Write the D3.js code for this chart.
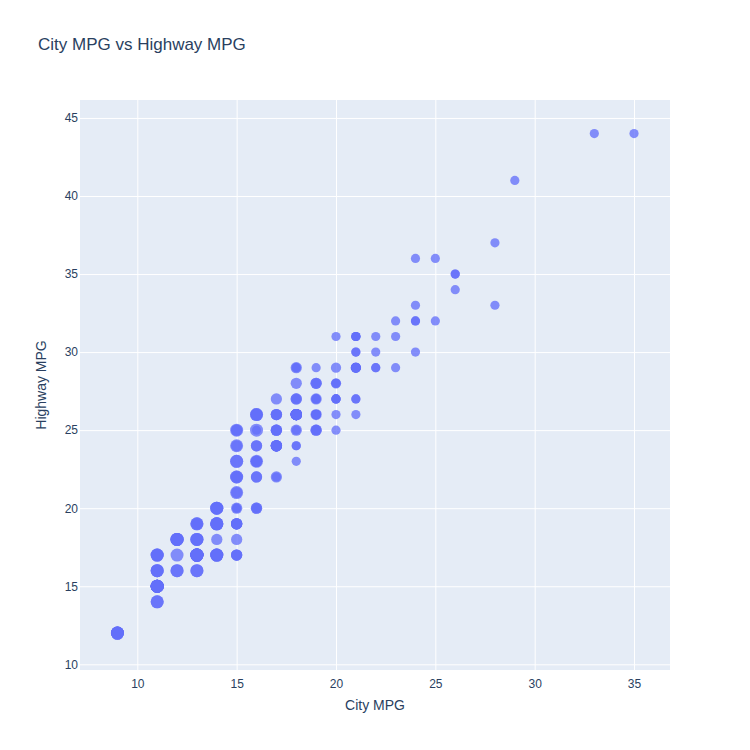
<!DOCTYPE html>
<html>
<head>
<meta charset="utf-8">
<script src="https://cdn.jsdelivr.net/npm/d3@7"></script>
<style>
  html, body { margin: 0; padding: 0; background: #fff; }
  svg text { font-family: "Liberation Sans", Arial, sans-serif; fill: #2a3f5f; }
</style>
</head>
<body>
<div id="chart"></div>
<script>
// City MPG per car
const cty = [
  18,21,20,21,16,18,18,
  18,16,20,19,15,17,17,15,
  15,17,16,
  14,11,14,13,12,
  16,15,16,15,15,
  14,11,11,14,
  19,22,18,18,17,
  18,17,16,16,17,17,11,15,15,16,16,
  15,14,13,14,14,14,9,14,11,
  13,13,9,13,11,13,11,
  12,9,13,13,12,9,11,11,13,11,
  11,11,12,
  14,15,14,13,13,13,
  14,14,13,13,13,11,13,
  18,18,17,16,15,15,15,15,14,
  28,24,25,23,24,26,25,24,21,
  18,18,21,21,18,18,19,
  19,19,20,20,17,16,17,
  17,15,15,14,9,14,13,11,
  11,12,12,11,
  11,11,12,
  14,13,13,13,
  21,19,23,23,19,19,
  18,19,19,
  14,15,14,12,
  18,16,17,18,16,
  18,18,20,19,20,18,
  21,19,19,19,20,20,19,20,
  15,16,15,15,16,14,
  21,21,21,21,18,18,19,
  21,21,21,22,18,18,18,
  24,24,26,28,26,
  11,13,
  15,16,17,15,15,15,16,
  21,19,21,22,17,
  33,21,19,22,21,21,21,16,17,
  35,29,21,19,20,20,
  21,18,19,21,16,18,17
];
// Highway MPG per car
const hwy = [
  29,29,31,30,26,26,27,
  26,25,28,27,25,25,25,25,
  24,25,23,
  20,15,20,17,17,
  26,23,26,25,24,
  19,14,15,17,
  27,30,26,29,26,
  24,24,22,22,24,24,17,22,21,23,23,
  19,18,17,17,19,19,12,17,15,
  17,17,12,17,16,18,15,
  16,12,17,17,16,12,15,16,17,15,
  17,17,18,
  17,19,17,19,19,17,
  17,17,16,16,17,15,17,
  26,25,26,24,21,22,23,22,20,
  33,32,32,29,32,34,36,36,29,
  26,27,30,31,26,26,28,
  26,29,28,27,24,24,24,
  22,19,20,17,12,19,18,14,
  15,18,18,15,
  17,16,18,
  17,19,19,17,
  29,27,31,32,27,26,
  26,25,25,
  17,17,20,18,
  26,26,27,28,25,
  25,24,27,25,26,23,
  26,26,26,26,25,27,25,27,
  20,20,19,17,20,17,
  29,27,31,31,26,26,28,
  27,29,31,31,26,26,27,
  30,33,35,37,35,
  15,18,
  20,20,22,17,19,18,20,
  29,26,29,29,24,
  44,29,26,29,29,29,29,23,24,
  44,41,29,26,28,29,
  29,29,28,29,26,26,26
];
// Cylinders per car (marker size)
const cyl = [
  4,4,4,4,6,6,6,
  4,4,4,4,6,6,6,6,
  6,6,8,
  8,8,8,8,8,
  8,8,8,8,8,
  8,8,8,8,
  4,4,6,6,6,
  4,6,6,6,6,6,6,6,6,6,6,
  6,6,6,6,8,8,8,8,8,
  6,8,8,8,8,8,8,
  8,8,8,8,8,8,8,8,8,8,
  8,8,8,
  6,6,6,6,8,8,
  6,6,8,8,8,8,8,
  6,6,6,6,8,8,8,8,8,
  4,4,4,4,4,4,4,4,4,
  4,4,4,4,6,6,6,
  4,4,4,4,6,6,6,
  6,6,6,8,8,8,8,8,
  8,8,8,8,
  8,8,8,
  6,6,8,8,
  4,4,4,4,6,6,
  6,6,6,
  6,6,6,8,
  6,6,6,6,8,
  4,4,4,4,4,4,
  4,4,4,4,4,4,4,4,
  4,4,6,6,6,8,
  4,4,4,4,6,6,6,
  4,4,4,4,6,6,6,
  4,4,4,4,4,
  8,8,
  4,4,4,6,6,6,6,
  4,4,4,4,6,
  4,4,4,4,4,5,5,6,6,
  4,4,4,4,5,5,
  4,4,4,4,6,6,6
];
const xTicks = [10, 15, 20, 25, 30, 35];
const yTicks = [10, 15, 20, 25, 30, 35, 40, 45];

const W = 750, H = 750;
const m = {l: 80, r: 80, t: 100, b: 80};

const svg = d3.select("#chart").append("svg")
  .attr("width", W).attr("height", H);

const x = d3.scaleLinear().domain([7.116, 36.81]).range([m.l, W - m.r]);
const y = d3.scaleLinear().domain([9.635, 46.15]).range([H - m.b, m.t]);
const r = d3.scaleSqrt().domain([0, 8]).range([0, 6.5]);

svg.append("rect")
  .attr("x", m.l).attr("y", m.t)
  .attr("width", W - m.l - m.r).attr("height", H - m.t - m.b)
  .attr("fill", "#e5ecf6");

// grid
const gx = svg.append("g")
  .attr("transform", `translate(0,${H - m.b})`)
  .call(d3.axisBottom(x).tickValues(xTicks).tickSize(-(H - m.t - m.b)).tickPadding(8));
const gy = svg.append("g")
  .attr("transform", `translate(${m.l},0)`)
  .call(d3.axisLeft(y).tickValues(yTicks).tickSize(-(W - m.l - m.r)).tickPadding(2));
[gx, gy].forEach(g => {
  g.select(".domain").remove();
  g.selectAll(".tick line").attr("stroke", "#ffffff").attr("stroke-width", 1);
  g.selectAll(".tick text").attr("font-size", 12).style("fill", "#2a3f5f");
});
gx.selectAll(".tick text").attr("dy", "0.71em").attr("y", 9);

const data = cty.map((c, i) => ({c, h: hwy[i], k: cyl[i]}));

svg.append("g").selectAll("circle").data(data).join("circle")
  .attr("cx", d => x(d.c))
  .attr("cy", d => y(d.h))
  .attr("r", d => r(d.k))
  .attr("fill", "#636efa")
  .attr("fill-opacity", 0.77);

svg.append("text")
  .attr("x", 38).attr("y", 44).attr("dy", "0.35em")
  .attr("font-size", 17)
  .text("City MPG vs Highway MPG");

svg.append("text")
  .attr("x", m.l + (W - m.l - m.r) / 2).attr("y", 710)
  .attr("text-anchor", "middle").attr("font-size", 14)
  .text("City MPG");

svg.append("text")
  .attr("transform", `translate(46,${m.t + (H - m.t - m.b) / 2}) rotate(-90)`)
  .attr("text-anchor", "middle").attr("font-size", 14)
  .text("Highway MPG");
</script>
</body>
</html>
